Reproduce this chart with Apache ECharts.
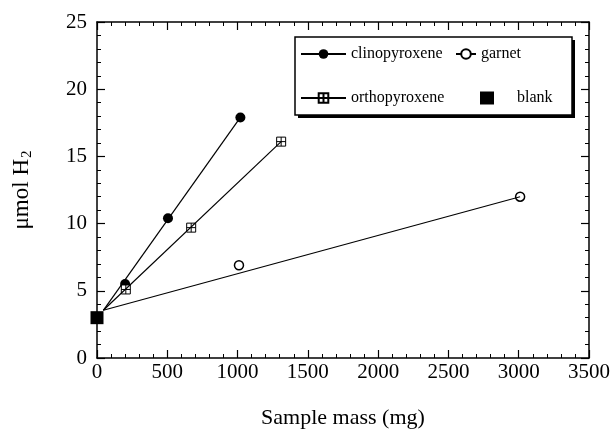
<!DOCTYPE html>
<html>
<head>
<meta charset="utf-8">
<script src="https://cdn.jsdelivr.net/npm/echarts@6/dist/echarts.min.js"></script>
<style>
  html, body { margin: 0; padding: 0; background: #fff; }
  #main { width: 614px; height: 434px; }
</style>
</head>
<body>
<div id="main"></div>
<script>
// measured points [sample mass mg, umol H2]
var clinoPts = [[200, 5.5], [505, 10.4], [1020, 17.9]];
var garnetPts = [[1010, 6.9], [3010, 12.0]];
var orthoPts = [[205, 5.1], [670, 9.7], [1310, 16.1]];
var blankPts = [[0, 3.0]];

// fitted lines (start near the blank, end at last point)
var clinoFit = [[45, 3.55], [1020, 17.9]];
var garnetFit = [[45, 3.55], [3010, 12.0]];
var orthoFit = [[45, 3.55], [1310, 16.1]];

var xMin = 0, xMax = 3500, xStep = 500;
var yMin = 0, yMax = 25, yStep = 5;

var FONT = "Liberation Serif";
var orthoSymbol = "path://M0,0H10V10H0Z M5,0V10 M0,5H10";

function axisBase(pos, show) {
  return {
    position: pos,
    axisLine: { show: true, onZero: false, lineStyle: { color: "#000", width: 1.5 } },
    axisTick: { show: true, inside: true, length: 8, lineStyle: { color: "#000", width: 1.2 } },
    minorTick: { show: true, splitNumber: 5, length: 4, lineStyle: { color: "#000", width: 1 } },
    splitLine: { show: false },
    axisLabel: {
      show: show, color: "#000", fontFamily: FONT, fontSize: 21,
      formatter: function (v) { return String(v); }
    }
  };
}

var myChart = echarts.init(document.getElementById("main"));

var xBottom = axisBase("bottom", true);
xBottom.type = "value";
xBottom.min = xMin; xBottom.max = xMax; xBottom.interval = xStep;
xBottom.axisLabel.margin = 4;
xBottom.name = "Sample mass (mg)";
xBottom.nameLocation = "middle";
xBottom.nameGap = 49;
xBottom.nameTextStyle = { color: "#000", fontFamily: FONT, fontSize: 22 };

var xTop = axisBase("top", false);
xTop.type = "value";
xTop.min = xMin; xTop.max = xMax; xTop.interval = xStep;

var yLeft = axisBase("left", true);
yLeft.type = "value";
yLeft.min = yMin; yLeft.max = yMax; yLeft.interval = yStep;
yLeft.axisLabel.margin = 10;
yLeft.name = "{m|\u03bcmol H}{s|2}";
yLeft.nameLocation = "middle";
yLeft.nameRotate = 90;
yLeft.nameGap = 62;
yLeft.nameTextStyle = {
  color: "#000", fontFamily: FONT, fontSize: 23,
  rich: {
    m: { fontFamily: FONT, fontSize: 23, color: "#000" },
    s: { fontFamily: FONT, fontSize: 15, color: "#000", padding: [11, 0, 0, 1] }
  }
};

var yRight = axisBase("right", false);
yRight.type = "value";
yRight.min = yMin; yRight.max = yMax; yRight.interval = yStep;

var legendText = { color: "#000", fontFamily: FONT, fontSize: 16 };

var option = {
  animation: false,
  grid: { left: 97, right: 25, top: 22, bottom: 75 },
  xAxis: [xBottom, xTop],
  yAxis: [yLeft, yRight],
  graphic: [
    { type: "rect", shape: { x: 298, y: 40, width: 277, height: 78 }, style: { fill: "#000" }, z: 1 },
    { type: "rect", shape: { x: 295, y: 37, width: 277, height: 78 }, style: { fill: "#fff", stroke: "#000", lineWidth: 1.5 }, z: 2 }
  ],
  legend: [
    {
      data: ["clinopyroxene", "orthopyroxene"], orient: "vertical", left: 300, top: 46,
      itemWidth: 45, itemHeight: 12, itemGap: 28, padding: 0, selectedMode: false,
      textStyle: legendText, z: 10
    },
    {
      data: ["garnet"], left: 455, top: 46,
      itemWidth: 20, itemHeight: 12, padding: 0, selectedMode: false,
      textStyle: legendText, z: 10
    },
    {
      data: ["blank"], left: 480, top: 90,
      itemWidth: 14, itemHeight: 13, padding: 0, selectedMode: false,
      textStyle: { color: "#000", fontFamily: FONT, fontSize: 16, padding: [0, 0, 0, 18] }, z: 10
    }
  ],
  series: [
    {
      name: "clinopyroxene", type: "line", data: clinoFit,
      symbol: "circle", showSymbol: false, silent: true,
      lineStyle: { color: "#000", width: 1.2 },
      itemStyle: { color: "#000" }
    },
    {
      name: "clinopyroxene", type: "scatter", data: clinoPts,
      symbol: "circle", symbolSize: 10, clip: false,
      itemStyle: { color: "#000", opacity: 1 }
    },
    {
      name: "garnet", type: "line", data: garnetFit,
      symbol: "circle", showSymbol: false, silent: true,
      lineStyle: { color: "#000", width: 1.2 },
      itemStyle: { color: "#fff", borderColor: "#000", borderWidth: 1.2 }
    },
    {
      name: "garnet", type: "scatter", data: garnetPts,
      symbol: "circle", symbolSize: 9, clip: false,
      itemStyle: { color: "#fff", borderColor: "#000", borderWidth: 1.5, opacity: 1 }
    },
    {
      name: "orthopyroxene", type: "line", data: orthoFit,
      symbol: orthoSymbol, showSymbol: false, silent: true,
      lineStyle: { color: "#000", width: 1.2 },
      itemStyle: { color: "#fff", borderColor: "#000", borderWidth: 1 }
    },
    {
      name: "orthopyroxene", type: "scatter", data: orthoPts,
      symbol: orthoSymbol, symbolSize: 9, clip: false,
      itemStyle: { color: "#fff", borderColor: "#000", borderWidth: 1, opacity: 1 }
    },
    {
      name: "blank", type: "scatter", data: blankPts,
      symbol: "rect", symbolSize: 13, clip: false, z: 5,
      itemStyle: { color: "#000", opacity: 1 }
    }
  ]
};
myChart.setOption(option);
</script>
</body>
</html>
